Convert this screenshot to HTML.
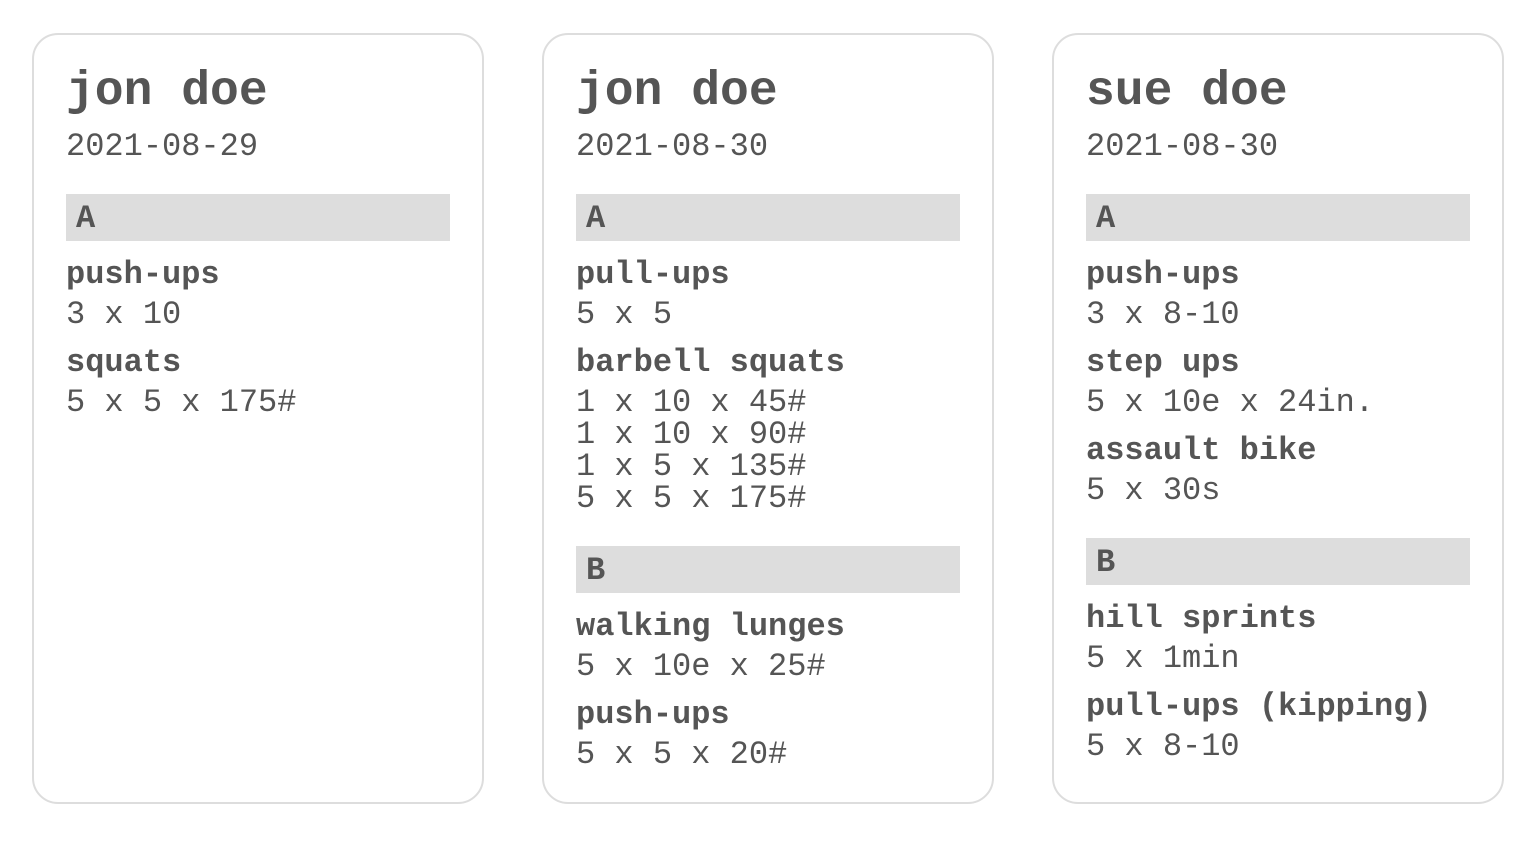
<!DOCTYPE html>
<html><head><meta charset="utf-8"><style>
body{margin:0;width:1536px;height:868px;background:#fff;position:relative;font-family:"Liberation Mono","DejaVu Sans Mono",monospace;color:#555;overflow:hidden}
.card{position:absolute;top:33px;width:448px;height:767px;border:2px solid #ddd;border-radius:26px;box-sizing:content-box}
.t{position:absolute;white-space:pre;font-size:32px;line-height:32px}
.h{font-size:48px;line-height:48px;font-weight:bold}
.b{font-weight:bold}
.bar{position:absolute;width:384px;height:47px;background:#ddd}
.bar span{position:absolute;left:10px;top:9px;font-size:32px;line-height:32px;font-weight:bold}
</style></head><body>
<div class="card" style="left:32px"></div>
<div class="card" style="left:542px"></div>
<div class="card" style="left:1052px"></div>

<!-- card 1 -->
<div class="t h" style="left:66px;top:68px">jon doe</div>
<div class="t" style="left:66px;top:131px">2021-08-29</div>
<div class="bar" style="left:66px;top:194px"><span>A</span></div>
<div class="t b" style="left:66px;top:259px">push-ups</div>
<div class="t" style="left:66px;top:299px">3 x 10</div>
<div class="t b" style="left:66px;top:347px">squats</div>
<div class="t" style="left:66px;top:387px">5 x 5 x 175#</div>

<!-- card 2 -->
<div class="t h" style="left:576px;top:68px">jon doe</div>
<div class="t" style="left:576px;top:131px">2021-08-30</div>
<div class="bar" style="left:576px;top:194px"><span>A</span></div>
<div class="t b" style="left:576px;top:259px">pull-ups</div>
<div class="t" style="left:576px;top:299px">5 x 5</div>
<div class="t b" style="left:576px;top:347px">barbell squats</div>
<div class="t" style="left:576px;top:387px">1 x 10 x 45#
1 x 10 x 90#
1 x 5 x 135#
5 x 5 x 175#</div>
<div class="bar" style="left:576px;top:546px"><span>B</span></div>
<div class="t b" style="left:576px;top:611px">walking lunges</div>
<div class="t" style="left:576px;top:651px">5 x 10e x 25#</div>
<div class="t b" style="left:576px;top:699px">push-ups</div>
<div class="t" style="left:576px;top:739px">5 x 5 x 20#</div>

<!-- card 3 -->
<div class="t h" style="left:1086px;top:68px">sue doe</div>
<div class="t" style="left:1086px;top:131px">2021-08-30</div>
<div class="bar" style="left:1086px;top:194px"><span>A</span></div>
<div class="t b" style="left:1086px;top:259px">push-ups</div>
<div class="t" style="left:1086px;top:299px">3 x 8-10</div>
<div class="t b" style="left:1086px;top:347px">step ups</div>
<div class="t" style="left:1086px;top:387px">5 x 10e x 24in.</div>
<div class="t b" style="left:1086px;top:435px">assault bike</div>
<div class="t" style="left:1086px;top:475px">5 x 30s</div>
<div class="bar" style="left:1086px;top:538px"><span>B</span></div>
<div class="t b" style="left:1086px;top:603px">hill sprints</div>
<div class="t" style="left:1086px;top:643px">5 x 1min</div>
<div class="t b" style="left:1086px;top:691px">pull-ups (kipping)</div>
<div class="t" style="left:1086px;top:731px">5 x 8-10</div>
</body></html>
